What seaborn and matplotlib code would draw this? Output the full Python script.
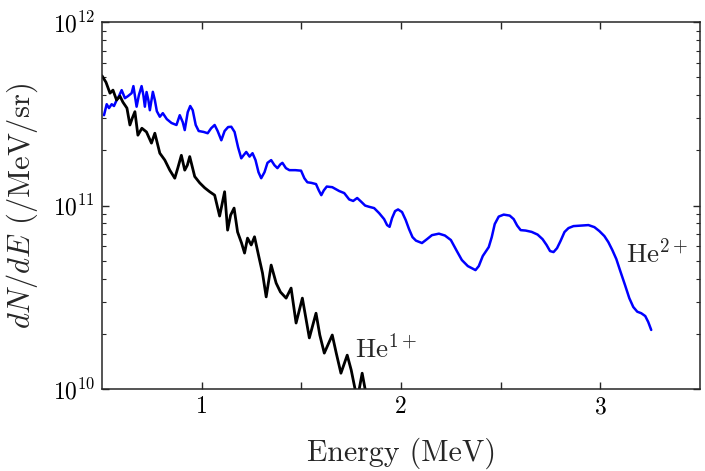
import numpy as np
import pandas as pd
import seaborn as sns
import matplotlib
matplotlib.use("Agg")
import matplotlib.pyplot as plt

# He1+ spectrum
he1_energy = [0.50, 0.52, 0.54, 0.555, 0.573, 0.59, 0.605, 0.625, 0.64, 0.652,
              0.665, 0.68, 0.70, 0.723, 0.748, 0.765, 0.79, 0.815, 0.84, 0.865,
              0.88, 0.898, 0.915, 0.928, 0.94, 0.965, 0.99, 1.015, 1.04, 1.065,
              1.09, 1.115, 1.13, 1.145, 1.1625, 1.18, 1.20, 1.215, 1.23, 1.2485,
              1.265, 1.285, 1.305, 1.3235, 1.3485, 1.3735, 1.395, 1.4235, 1.4485, 1.4735,
              1.505, 1.5225, 1.54, 1.5735, 1.5925, 1.615, 1.655, 1.675, 1.6985, 1.73,
              1.75, 1.7735, 1.78, 1.805, 1.83]
he1_counts = [5.1e11, 4.7e11, 4.1e11, 4.26e11, 3.76e11, 3.95e11, 3.66e11, 3.40e11, 2.75e11, 3.00e11,
              3.25e11, 2.42e11, 2.64e11, 2.52e11, 2.19e11, 2.48e11, 1.93e11, 1.77e11, 1.56e11, 1.41e11,
              1.60e11, 1.88e11, 1.56e11, 1.66e11, 1.85e11, 1.44e11, 1.33e11, 1.25e11, 1.19e11, 1.14e11,
              8.77e10, 1.19e11, 7.35e10, 8.87e10, 9.69e10, 7.18e10, 6.25e10, 5.51e10, 6.65e10, 6.10e10,
              6.76e10, 5.37e10, 4.29e10, 3.18e10, 4.74e10, 3.78e10, 3.38e10, 3.13e10, 3.55e10, 2.29e10,
              3.13e10, 2.44e10, 1.90e10, 2.59e10, 1.97e10, 1.57e10, 1.97e10, 1.57e10, 1.22e10, 1.53e10,
              1.27e10, 9.5e9, 8.7e9, 1.22e10, 8.7e9]

# He2+ spectrum
he2_energy = [0.51, 0.5235, 0.535, 0.5485, 0.56, 0.5735, 0.585, 0.5985, 0.615, 0.63,
              0.6485, 0.6575, 0.6735, 0.685, 0.6985, 0.7075, 0.715, 0.7235, 0.7325, 0.74,
              0.755, 0.765, 0.775, 0.79, 0.805, 0.825, 0.8485, 0.8735, 0.89, 0.905,
              0.915, 0.93, 0.9425, 0.955, 0.97, 0.985, 1.01, 1.03, 1.0475, 1.065,
              1.08, 1.0985, 1.115, 1.1325, 1.1485, 1.165, 1.1825, 1.1985, 1.21, 1.2235,
              1.24, 1.255, 1.27, 1.285, 1.2985, 1.315, 1.33, 1.3485, 1.365, 1.38,
              1.395, 1.405, 1.4225, 1.44, 1.47, 1.4985, 1.515, 1.53, 1.55, 1.5735,
              1.5875, 1.60, 1.6125, 1.6275, 1.655, 1.69, 1.715, 1.74, 1.76, 1.78,
              1.80, 1.82, 1.84, 1.865, 1.89, 1.915, 1.93, 1.9425, 1.955, 1.97,
              1.985, 2.005, 2.0235, 2.04, 2.0575, 2.075, 2.105, 2.13, 2.155, 2.19,
              2.22, 2.25, 2.28, 2.305, 2.335, 2.3735, 2.39, 2.41, 2.44, 2.455,
              2.47, 2.49, 2.515, 2.545, 2.565, 2.5825, 2.60, 2.625, 2.655, 2.685,
              2.71, 2.73, 2.7475, 2.765, 2.7825, 2.80, 2.82, 2.84, 2.865, 2.90,
              2.94, 2.97, 2.995, 3.02, 3.04, 3.06, 3.08, 3.10, 3.1235, 3.145,
              3.165, 3.185, 3.205, 3.225, 3.24, 3.255]
he2_counts = [3.11e11, 3.57e11, 3.40e11, 3.57e11, 3.49e11, 3.76e11, 3.95e11, 4.26e11, 3.85e11, 3.95e11,
              4.10e11, 4.48e11, 3.46e11, 4.00e11, 4.48e11, 4.00e11, 3.46e11, 4.16e11, 3.76e11, 3.31e11,
              4.17e11, 3.76e11, 3.27e11, 3.05e11, 3.19e11, 2.96e11, 2.82e11, 2.75e11, 3.11e11, 2.85e11,
              2.58e11, 3.23e11, 3.49e11, 3.31e11, 2.75e11, 2.55e11, 2.52e11, 2.48e11, 2.64e11, 2.75e11,
              2.55e11, 2.27e11, 2.55e11, 2.68e11, 2.69e11, 2.52e11, 2.08e11, 1.81e11, 1.88e11, 1.96e11,
              1.85e11, 1.93e11, 1.77e11, 1.52e11, 1.41e11, 1.52e11, 1.71e11, 1.77e11, 1.66e11, 1.60e11,
              1.68e11, 1.71e11, 1.60e11, 1.56e11, 1.56e11, 1.55e11, 1.41e11, 1.34e11, 1.33e11, 1.31e11,
              1.21e11, 1.14e11, 1.21e11, 1.27e11, 1.26e11, 1.20e11, 1.17e11, 1.08e11, 1.06e11, 1.10e11,
              1.05e11, 1.00e11, 9.85e10, 9.69e10, 9.10e10, 8.44e10, 7.83e10, 7.66e10, 8.55e10, 9.33e10,
              9.53e10, 9.22e10, 8.34e10, 7.45e10, 6.73e10, 6.44e10, 6.25e10, 6.56e10, 6.90e10, 7.03e10,
              6.87e10, 6.49e10, 5.65e10, 5.05e10, 4.68e10, 4.45e10, 4.68e10, 5.31e10, 5.94e10, 6.73e10,
              7.93e10, 8.71e10, 8.93e10, 8.82e10, 8.44e10, 7.78e10, 7.35e10, 7.31e10, 7.19e10, 6.95e10,
              6.56e10, 6.10e10, 5.65e10, 5.58e10, 5.86e10, 6.41e10, 7.18e10, 7.54e10, 7.73e10, 7.78e10,
              7.83e10, 7.63e10, 7.26e10, 6.82e10, 6.32e10, 5.72e10, 5.11e10, 4.39e10, 3.69e10, 3.13e10,
              2.80e10, 2.64e10, 2.59e10, 2.50e10, 2.32e10, 2.10e10]

he1 = pd.DataFrame({"energy": he1_energy, "counts": he1_counts})
he2 = pd.DataFrame({"energy": he2_energy, "counts": he2_counts})

sns.set_style("ticks")
plt.rcParams["font.family"] = "serif"
plt.rcParams["font.serif"] = ["cmr10", "DejaVu Serif"]
plt.rcParams["mathtext.fontset"] = "cm"
plt.rcParams["axes.formatter.use_mathtext"] = True
plt.rcParams["axes.unicode_minus"] = False

fig = plt.figure(figsize=(7.05, 4.71), dpi=100)
ax = fig.add_axes([0.1447, 0.174, 0.8483, 0.779])

sns.lineplot(data=he2, x="energy", y="counts", color="#0000ff", lw=1.8, ax=ax)
sns.lineplot(data=he1, x="energy", y="counts", color="black", lw=2.0, ax=ax)

ax.set_yscale("log")
ax.set_xlim(0.5, 3.5)
ax.set_ylim(1e10, 1e12)
ax.set_xticks([1, 2, 3])
ax.set_xticks([1.5, 2.5], minor=True)
ax.set_xticklabels(["1", "2", "3"])

ax.tick_params(which="both", direction="in", top=True, right=True,
               colors="0.15", labelcolor="black", labelsize=17)
ax.tick_params(which="major", length=5, width=1, pad=5)
ax.tick_params(axis="x", which="minor", length=5, width=1)
ax.tick_params(axis="y", which="minor", length=3, width=0.8)
for s in ax.spines.values():
    s.set_color("0.15")
    s.set_linewidth(1.1)

ax.set_xlabel("Energy (MeV)", fontsize=21.5, labelpad=14)
ax.set_ylabel("$dN/dE$ (/MeV/sr)", fontsize=22, labelpad=9)

ax.text(1.77, 1.49e10, r"$\mathrm{He}^{1+}$", fontsize=19.5, ha="left", va="baseline")
ax.text(3.13, 4.92e10, r"$\mathrm{He}^{2+}$", fontsize=19.5, ha="left", va="baseline")

plt.savefig("out.png", dpi=100)
